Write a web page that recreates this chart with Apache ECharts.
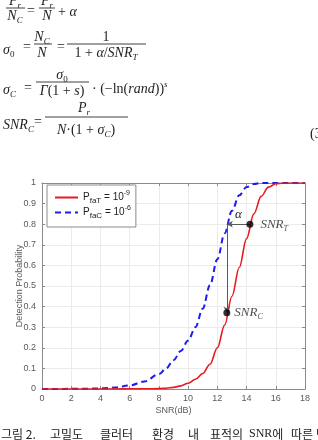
<!DOCTYPE html>
<html>
<head>
<meta charset="utf-8">
<script src="https://cdn.jsdelivr.net/npm/echarts@6/dist/echarts.min.js"></script>
<style>
html,body{margin:0;padding:0;background:#fff;}
#chart{width:318px;height:440px;}
</style>
</head>
<body>
<div id="chart"></div>
<script>
// ---- data ----
const snrDb      = [0, 1, 2, 3, 4, 5, 6, 7, 8, 8.5, 9, 9.5, 10, 10.5, 11, 11.5, 12, 12.5, 13, 13.5, 14, 14.5, 15, 15.5, 16, 16.5, 17, 18];
const pdFaT      = [0, 0, 0, 0, 0, 0, 0.001, 0.001, 0.002, 0.004, 0.008, 0.015, 0.028, 0.047, 0.075, 0.12, 0.20, 0.31, 0.45, 0.59, 0.73, 0.85, 0.935, 0.98, 0.996, 1, 1, 1];
const pdFaC      = [0, 0, 0.001, 0.001, 0.003, 0.007, 0.017, 0.036, 0.072, 0.10, 0.14, 0.185, 0.235, 0.30, 0.39, 0.505, 0.63, 0.755, 0.865, 0.94, 0.98, 0.995, 1, 1, 1, 1, 1, 1];
const seriesNames = ['PfaT', 'PfaC'];
const legendLabels = ['{n|P}{sub|faT}{n| = 10}{sup|-9}', '{n|P}{sub|faC}{n| = 10}{sup|-6}'];
const snrTPoint  = [14.23, 0.80];
const snrCPoint  = [12.65, 0.37];
const xTicks = { min: 0, max: 18, step: 2 };
const yTicks = { min: 0, max: 1, step: 0.1 };

const pairs = (xs, ys) => xs.map((x, i) => [x, ys[i]]);

const axisColor = '#8a8a8a';
const labelColor = '#5a5a5a';

const mathRich = {
  i:   { fontFamily: 'Liberation Serif', fontStyle: 'italic', fontSize: 14, lineHeight: 18, verticalAlign: 'middle', fill: '#1e1e1e' },
  r:   { fontFamily: 'Liberation Serif', fontSize: 14, lineHeight: 18, verticalAlign: 'middle', fill: '#1e1e1e' },
  s:   { fontFamily: 'Liberation Serif', fontStyle: 'italic', fontSize: 9, lineHeight: 9, verticalAlign: 'bottom', fill: '#1e1e1e' },
  s0:  { fontFamily: 'Liberation Serif', fontSize: 9, lineHeight: 9, verticalAlign: 'bottom', fill: '#1e1e1e' },
  sup: { fontFamily: 'Liberation Serif', fontStyle: 'italic', fontSize: 9, lineHeight: 9, verticalAlign: 'top', fill: '#1e1e1e' }
};
const labelRich = {
  i: { fontFamily: 'Liberation Serif', fontStyle: 'italic', fontSize: 13, lineHeight: 17, verticalAlign: 'middle', color: '#1e1e1e' },
  s: { fontFamily: 'Liberation Serif', fontStyle: 'italic', fontSize: 8, lineHeight: 8, verticalAlign: 'bottom', color: '#1e1e1e' }
};
function mt(x, y, text, align) {
  return { type: 'text', x: x, y: y, silent: true,
    style: { text: text, rich: mathRich, align: align || 'center', verticalAlign: 'middle', fill: '#1e1e1e' } };
}
function bar(x1, x2, y) {
  return { type: 'line', silent: true, shape: { x1: x1, y1: y, x2: x2, y2: y }, style: { stroke: '#2a2a2a', lineWidth: 0.9 } };
}
const capFont = 'Noto Sans CJK KR';
function cap(x, text) {
  return { type: 'text', x: x, y: 434, silent: true,
    style: { text: text, align: 'left', verticalAlign: 'middle',
      rich: {
        k: { fontFamily: capFont, fontSize: 12, fill: '#222' },
        e: { fontFamily: 'Liberation Serif', fontSize: 12, fill: '#222' }
      } } };
}

const graphics = [
  // line 1
  mt(15, 1, '{i|P}{s|r}'), bar(6, 25, 8), mt(15, 16, '{i|N}{s|C}'),
  mt(31, 11, '{r|=}'),
  mt(47, 1, '{i|P}{s|r}'), bar(39, 55, 8), mt(47, 16, '{i|N}'),
  mt(58, 12, '{r|+ }{i|α}', 'left'),
  // line 2
  mt(3, 50, '{i|σ}{s0|0}', 'left'), mt(27, 47, '{r|=}'),
  mt(42, 37, '{i|N}{s|C}'), bar(34, 52, 44), mt(42, 53, '{i|N}'),
  mt(61, 47, '{r|=}'),
  mt(106, 37, '{r|1}'), bar(67, 146, 44), mt(106, 53, '{r|1 + }{i|α}{r|/}{i|SNR}{s|T}'),
  // line 3
  mt(3, 90, '{i|σ}{s|C}', 'left'), mt(28, 88, '{r|=}'),
  mt(62, 75, '{i|σ}{s0|0}'), bar(36, 89, 82), mt(62, 91, '{i|Γ}{r|(1 + }{i|s}{r|)}'),
  mt(92, 89, '{r|· (−ln(}{i|rand}{r|))}{sup|s}', 'left'),
  // line 4
  mt(3, 125, '{i|SNR}{s|C}', 'left'), mt(38, 122, '{r|=}'),
  mt(84, 108, '{i|P}{s|r}'), bar(45, 128, 117), mt(86, 130, '{i|N}{r|·(1 + }{i|σ}{s|C}{r|)}'),
  mt(310, 134, '{r|(3)}', 'left'),
  // caption
  cap(1, '{k|그림 2.}'), cap(50, '{k|고밀도}'), cap(100, '{k|클러터}'), cap(152, '{k|환경}'),
  cap(188, '{k|내}'), cap(210, '{k|표적의}'), cap(249, '{e|SNR}{k|에}'), cap(291, '{k|따른}'), cap(316, '{k|탐}')
];

const chart = echarts.init(document.getElementById('chart'), null, { renderer: 'canvas' });
const baseX = {
  type: 'value', min: xTicks.min, max: xTicks.max, interval: xTicks.step,
  axisLine: { show: true, onZero: false, lineStyle: { color: axisColor, width: 1 } },
  axisTick: { show: true, inside: true, length: 3, lineStyle: { color: axisColor } }
};
const baseY = {
  type: 'value', min: yTicks.min, max: yTicks.max, interval: yTicks.step,
  axisLine: { show: true, onZero: false, lineStyle: { color: axisColor, width: 1 } },
  axisTick: { show: true, inside: true, length: 3, lineStyle: { color: axisColor } }
};
chart.setOption({
  animation: false,
  backgroundColor: '#fff',
  grid: { left: 42, right: 13, top: 183, bottom: 51, containLabel: false },
  xAxis: [
    Object.assign({}, baseX, {
      position: 'bottom',
      axisLabel: { fontSize: 9, color: labelColor, margin: 5, fontFamily: 'Liberation Sans' },
      splitLine: { show: true, lineStyle: { color: '#ebebeb', width: 1 } },
      name: 'SNR(dB)', nameLocation: 'middle', nameGap: 17, nameMoveOverlap: false,
      nameTextStyle: { fontSize: 9, color: labelColor, fontFamily: 'Liberation Sans' }
    }),
    Object.assign({}, baseX, { position: 'top', axisLabel: { show: false }, splitLine: { show: false } })
  ],
  yAxis: [
    Object.assign({}, baseY, {
      position: 'left',
      axisLabel: { fontSize: 9, color: labelColor, margin: 6, fontFamily: 'Liberation Sans',
        formatter: v => String(Math.round(v * 10) / 10) },
      splitLine: { show: true, lineStyle: { color: '#ebebeb', width: 1 } },
      name: 'Detection Probability', nameLocation: 'middle', nameGap: 18, nameRotate: 90, nameMoveOverlap: false,
      nameTextStyle: { fontSize: 9, color: labelColor, fontFamily: 'Liberation Sans' }
    }),
    Object.assign({}, baseY, { position: 'right', axisLabel: { show: false }, splitLine: { show: false } })
  ],
  legend: {
    orient: 'vertical', left: 47, top: 185,
    backgroundColor: '#fff', borderColor: '#8c8c8c', borderWidth: 1, borderRadius: 0,
    padding: [5, 5, 7, 7], itemGap: 0, itemWidth: 23, itemHeight: 12,
    data: seriesNames,
    itemStyle: { opacity: 0 },
    formatter: name => legendLabels[seriesNames.indexOf(name)],
    textStyle: {
      color: '#222', fontFamily: 'Liberation Sans', fontSize: 10,
      rich: {
        n:   { fontFamily: 'Liberation Sans', fontSize: 10, lineHeight: 15, verticalAlign: 'middle', color: '#222' },
        sub: { fontFamily: 'Liberation Sans', fontSize: 8, lineHeight: 8, verticalAlign: 'bottom', color: '#222' },
        sup: { fontFamily: 'Liberation Sans', fontSize: 7, lineHeight: 7, verticalAlign: 'top', color: '#222' }
      }
    }
  },
  graphic: graphics,
  series: [
    {
      name: seriesNames[0], type: 'line', data: pairs(snrDb, pdFaT),
      showSymbol: false, symbol: 'none', smooth: 0.35, smoothMonotone: 'x',
      lineStyle: { color: '#e8191f', width: 1.6 }, itemStyle: { color: '#e8191f' }, z: 3
    },
    {
      name: seriesNames[1], type: 'line', data: pairs(snrDb, pdFaC),
      showSymbol: false, symbol: 'none', smooth: 0.35, smoothMonotone: 'x',
      lineStyle: { color: '#1c1cf0', width: 2, type: [6, 4] }, itemStyle: { color: '#1c1cf0' }, z: 2
    },
    {
      name: 'annot', type: 'scatter', symbolSize: 7, z: 6,
      itemStyle: { color: '#000' },
      data: [
        { value: snrTPoint, label: { show: true, position: 'right', distance: 7, formatter: '{i|SNR}{s|T}', rich: labelRich } },
        { value: snrCPoint, label: { show: true, position: 'right', distance: 4, formatter: '{i|SNR}{s|C}', rich: labelRich } }
      ],
      markLine: {
        silent: true, symbolSize: [5, 6], animation: false,
        lineStyle: { color: '#5a5a5a', width: 1, type: 'solid' },
        data: [
          [
            { coord: [snrCPoint[0], snrTPoint[1]], symbol: 'arrow' },
            { coord: snrTPoint, symbol: 'none',
              label: { show: true, position: 'insideMiddleTop', formatter: '{i|α}', rich: labelRich, distance: 1 } }
          ],
          [
            { coord: [snrCPoint[0], snrTPoint[1]], symbol: 'none' },
            { coord: snrCPoint, symbol: 'arrow', label: { show: false } }
          ]
        ]
      }
    }
  ]
});
</script>
</body>
</html>
